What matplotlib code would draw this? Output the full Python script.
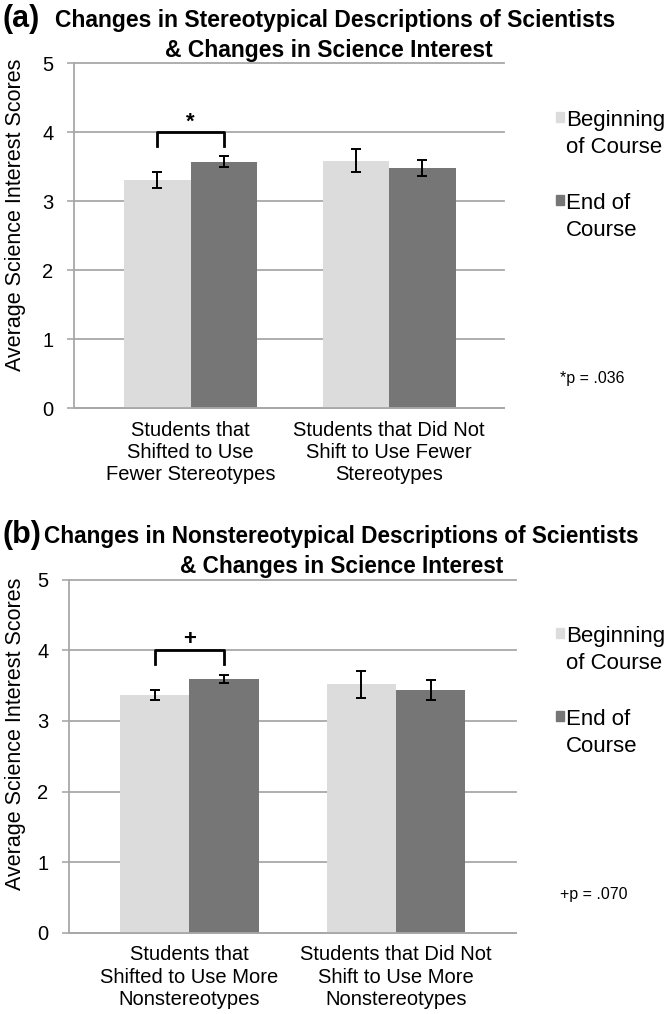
import numpy as np
import matplotlib
matplotlib.use("Agg")
import matplotlib.pyplot as plt
from matplotlib.patches import Rectangle

W, H = 668, 1014

# ---- data ----
series_names = ["Beginning\nof Course", "End of\nCourse"]
yticks = [0, 1, 2, 3, 4, 5]

cats_a = ["Students that\nShifted to Use\nFewer Stereotypes",
          "Students that Did Not\nShift to Use Fewer\nStereotypes"]
begin_a = [3.31, 3.59]
begin_err_a = [0.12, 0.16]
end_a = [3.57, 3.48]
end_err_a = [0.08, 0.12]

cats_b = ["Students that\nShifted to Use More\nNonstereotypes",
          "Students that Did Not\nShift to Use More\nNonstereotypes"]
begin_b = [3.37, 3.52]
begin_err_b = [0.07, 0.19]
end_b = [3.59, 3.44]
end_err_b = [0.06, 0.14]

LIGHT = "#dcdcdc"
DARK = "#767676"
GRID = "#a8a8a8"
BODY = ["Liberation Sans", "DejaVu Sans"]

plt.rcParams['font.family'] = BODY


def fx(x):
    return x / W


def fy(y):
    return 1 - y / H


def draw_panel(fig, box, cats, begin, begin_err, end, end_err, xlim,
               letter, title1, title2, tpos, tsize, sig_mark, p_text, ylab_y, dy):
    left, top, right, bottom = box
    ax = fig.add_axes([fx(left), fy(bottom), fx(right) - fx(left), (bottom - top) / H])
    x = np.arange(len(cats))
    w = 0.335
    ekw = dict(ecolor="black", elinewidth=1.4, capsize=3.8, capthick=1.4)
    ax.bar(x - w / 2, begin, w, color=LIGHT, yerr=begin_err, error_kw=ekw, zorder=2)
    ax.bar(x + w / 2, end, w, color=DARK, yerr=end_err, error_kw=ekw, zorder=2)

    ax.set_xlim(*xlim)
    ax.set_ylim(0, 5)
    ax.set_yticks(yticks)
    ax.set_xticks(x)
    ax.set_xticklabels(cats, fontsize=14.5, linespacing=1.22)
    ax.tick_params(axis="x", length=0, pad=9)
    ax.tick_params(axis="y", length=5, width=1.2, color=GRID, labelsize=14.5, pad=10)
    ax.yaxis.grid(True, color=GRID, lw=1.3)
    ax.set_axisbelow(True)
    for g in ax.get_ygridlines():
        g.set_clip_on(False)
    for s in ["top", "right"]:
        ax.spines[s].set_visible(False)
    for s in ["left", "bottom"]:
        ax.spines[s].set_color(GRID)
        ax.spines[s].set_linewidth(1.3)

    # significance bracket between the two bars of the first group
    ax.plot([-w / 2, -w / 2, w / 2, w / 2], [3.8, 4.0, 4.0, 3.8],
            color="black", lw=2, zorder=3, clip_on=False)
    ax.text(0, 4.15, sig_mark, ha="center", va="center", fontsize=16,
            fontweight="bold")

    # titles
    fig.text(fx(3), fy(tpos[0]), letter, fontsize=22, fontweight="bold",
             ha="left", va="baseline")
    fig.text(fx(tpos[2]), fy(tpos[0]), title1, fontsize=tsize, fontweight="bold",
             ha="center", va="baseline")
    fig.text(fx(tpos[3]), fy(tpos[1]), title2, fontsize=tsize, fontweight="bold",
             ha="center", va="baseline")

    # y label
    fig.text(fx(16), fy(ylab_y), "Average Science Interest Scores", rotation=90,
             ha="center", va="center", fontsize=15.5)

    # legend (square sits next to the first line of each entry)
    colors = [LIGHT, DARK]
    for i, name in enumerate(series_names):
        first_top = 112 + dy + i * 83
        fig.patches.append(Rectangle((fx(556), fy(first_top + 9.5)), 8 / W, 9.5 / H,
                                     transform=fig.transFigure, color=colors[i]))
        fig.text(fx(566), fy(first_top + 41), name, fontsize=16, va="baseline",
                 ha="left", linespacing=1.38)

    fig.text(fx(560), fy(383 + dy), p_text, fontsize=11.5, va="baseline", ha="left")
    return ax


fig = plt.figure(figsize=(W / 100, H / 100), dpi=100)

draw_panel(fig, (74.3, 63.3, 504, 408), cats_a, begin_a, begin_err_a, end_a, end_err_a,
           (-0.586, 1.578), "(a)",
           "Changes in Stereotypical Descriptions of Scientists",
           "& Changes in Science Interest", (27, 57, 335, 329), 16.5,
           "*", "*p = .036", 215, 0)

draw_panel(fig, (69.3, 579.6, 516, 933), cats_b, begin_b, begin_err_b, end_b, end_err_b,
           (-0.58, 1.58), "(b)",
           "Changes in Nonstereotypical Descriptions of Scientists",
           "& Changes in Science Interest", (543, 573, 341, 342), 16.3,
           "+", "+p = .070", 734, 516)

fig.savefig("out.png", dpi=100)
